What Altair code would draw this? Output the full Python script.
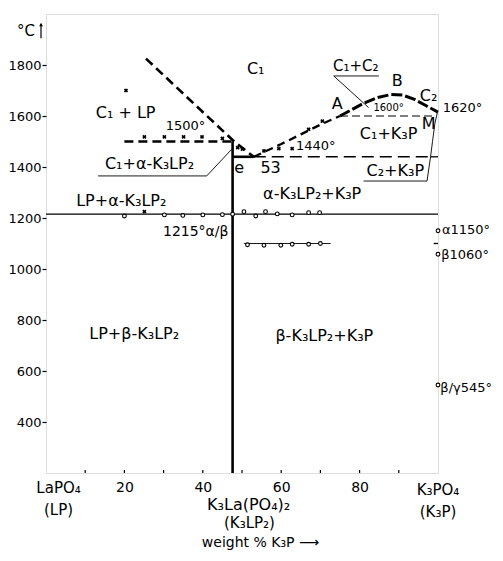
import altair as alt
import pandas as pd

# ---------------- data ----------------
liq_left_x = [25.5, 48.0, 53.0]
liq_left_T = [1825, 1500, 1440]
peritectic_x = [20.0, 47.6]
peritectic_T = [1500, 1500]
liq_right_x = [53.0, 60.0, 65.0, 70.0, 75.0]
liq_right_T = [1440, 1490, 1528, 1566, 1600]
dome_x = [75.0, 78.0, 81.0, 84.5, 88.0, 91.0, 94.0, 97.0, 100.0]
dome_T = [1600, 1625, 1650, 1672, 1684, 1682, 1665, 1640, 1615]
line1600_x = [75.0, 99.5]
line1600_T = [1600, 1600]
line1440_x = [53.0, 98.1]
line1440_T = [1440, 1440]
stub1440_x = [98.1, 100.0]
stub1440_T = [1440, 1440]
eut_x = [47.6, 53.0]
eut_T = [1440, 1440]
compound_x = [47.6, 47.6]
compound_T = [200, 1500]
line1215_x = [0.0, 100.0]
line1215_T = [1215, 1215]
bound_M_x = [99.8, 99.2, 98.6, 98.1]
bound_M_T = [1612, 1570, 1500, 1440]
row1100_x = [50.5, 72.6]
row1100_T = [1100, 1100]
stub1100_x = [98.9, 100.0]
stub1100_T = [1100, 1100]
# leader lines of labels
lead_c2k3p_x = [98.1, 97.2, 81.0]
lead_c2k3p_T = [1440, 1345, 1345]
lead_c1c2_x = [84.9, 73.4, 82.3]
lead_c1c2_T = [1757, 1757, 1633]
lead_c1a_x = [13.3, 41.0, 47.4]
lead_c1a_T = [1365, 1365, 1470]

# experimental points
cross_x = [20.4, 25.1, 30.2, 35.1, 39.8, 45.0, 48.9, 50.1, 55.6, 59.4, 62.8, 67.0, 70.5, 25.1]
cross_T = [1700, 1518, 1518, 1518, 1518, 1512, 1476, 1470, 1463, 1472, 1472, 1548, 1580, 1225]
circle_x = [20.0, 30.2, 34.9, 40.0, 45.0, 47.6, 50.5, 53.5, 56.0, 59.0, 62.8, 67.0, 69.8,
            51.4, 55.6, 59.9, 62.8, 67.0, 70.0, 100.0, 100.0, 100.0]
circle_T = [1208, 1212, 1210, 1212, 1213, 1215, 1225, 1208, 1225, 1216, 1212, 1221, 1221,
            1095, 1093, 1093, 1097, 1097, 1100, 1150, 1058, 545]

# region / point labels
lab_text = ["C₁", "C₁ + LP", "1500°", "C₁+α-K₃LP₂", "LP+α-K₃LP₂", "1215°α/β", "e", "53",
            "1440°", "C₁+C₂", "A", "B", "C₂", "1600°", "M", "C₁+K₃P", "C₂+K₃P",
            "α-K₃LP₂+K₃P", "LP+β-K₃LP₂", "β-K₃LP₂+K₃P"]
lab_x = [53.5, 20.3, 35.6, 26.4, 19.2, 38.2, 49.3, 57.3, 68.8, 79.0, 74.3, 89.6, 97.6,
         87.4, 97.6, 87.4, 89.1, 67.9, 22.5, 71.0]
lab_T = [1784, 1613, 1561, 1412, 1267, 1146, 1397, 1397, 1482, 1796, 1646, 1737, 1678,
         1630, 1567, 1528, 1384, 1293, 744, 737]
lab_size = [16, 16, 13, 16, 16, 14, 16, 16, 13, 15, 16, 16, 16, 10, 16, 16, 16, 16, 16, 16]

right_text = ["1620°", "α1150°", "β1060°", "β/γ545°"]
right_x = [101.2, 101.0, 100.8, 100.6]
right_T = [1630, 1152, 1055, 535]

xtick_major = [20, 40, 60, 80]
xtick_all = [10, 20, 30, 40, 50, 60, 70, 80, 90]
ytick_values = [400, 600, 800, 1000, 1200, 1400, 1600, 1800]

# bottom compound labels: text, x, pixel offset below plot, size
bot_text = ["LaPO₄", "(LP)", "K₃La(PO₄)₂", "(K₃LP₂)", "K₃PO₄", "(K₃P)", "weight % K₃P ⟶"]
bot_x = [3.2, 3.2, 51.7, 51.9, 100.0, 100.0, 54.7]
bot_off = [15, 37, 32, 50, 17, 39, 70]
bot_size = [15, 15, 16, 15, 15, 15, 14]

W, H = 392, 459
FONT = "DejaVu Sans"

# ---------------- build tables ----------------
line_specs = [
    ("liq_left", liq_left_x, liq_left_T, "thickdash"),
    ("peritectic", peritectic_x, peritectic_T, "thickdash"),
    ("liq_right", liq_right_x, liq_right_T, "meddash"),
    ("dome", dome_x, dome_T, "domedash"),
    ("l1600", line1600_x, line1600_T, "thindash"),
    ("l1440", line1440_x, line1440_T, "longdash"),
    ("s1440", stub1440_x, stub1440_T, "solid"),
    ("eut", eut_x, eut_T, "thicksolid"),
    ("compound", compound_x, compound_T, "thicksolid"),
    ("l1215", line1215_x, line1215_T, "solid"),
    ("boundM", bound_M_x, bound_M_T, "thin"),
    ("r1100", row1100_x, row1100_T, "thin"),
    ("s1100", stub1100_x, stub1100_T, "solid"),
    ("lead1", lead_c2k3p_x, lead_c2k3p_T, "thin"),
    ("lead2", lead_c1c2_x, lead_c1c2_T, "thin"),
    ("lead3", lead_c1a_x, lead_c1a_T, "thin"),
]
rows = []
for name, xs_, ts_, style in line_specs:
    for i, (xv, tv) in enumerate(zip(xs_, ts_)):
        rows.append({"seg": name, "x": xv, "T": tv, "o": i, "style": style})
lines_df = pd.DataFrame(rows)

styles = {
    "thickdash": dict(strokeWidth=2.6, strokeDash=[9, 5]),
    "meddash": dict(strokeWidth=2.3, strokeDash=[8, 5]),
    "domedash": dict(strokeWidth=3.0, strokeDash=[11, 3]),
    "thindash": dict(strokeWidth=1.2, strokeDash=[8, 4]),
    "longdash": dict(strokeWidth=1.6, strokeDash=[12, 6]),
    "solid": dict(strokeWidth=1.3),
    "thicksolid": dict(strokeWidth=2.6),
    "thin": dict(strokeWidth=0.9),
}

xs = alt.Scale(domain=[0, 100], nice=False, zero=False)
ys = alt.Scale(domain=[200, 2000], nice=False, zero=False)

base = alt.Chart(lines_df)
layers = []
for st, kw in styles.items():
    layers.append(
        base.transform_filter(alt.datum.style == st)
        .mark_line(color="black", strokeCap="butt", **kw)
        .encode(
            x=alt.X("x:Q", scale=xs,
                    axis=alt.Axis(values=xtick_major, title=None, domain=False, tickSize=0,
                                  labelPadding=7, labelFontSize=14, labelFont=FONT,
                                  labelColor="black", grid=False, format="d")),
            y=alt.Y("T:Q", scale=ys,
                    axis=alt.Axis(values=ytick_values, title=None, domain=False, tickSize=4,
                                  tickColor="black", tickWidth=1.2, labelPadding=1,
                                  labelFontSize=13, labelFont=FONT, labelColor="black",
                                  grid=False, format="d")),
            detail="seg:N",
            order="o:Q",
        )
    )

# inward ticks on the x axis
tick_df = pd.DataFrame({"x": xtick_all, "T0": [200] * len(xtick_all), "T1": [212] * len(xtick_all)})
ticks = alt.Chart(tick_df).mark_rule(color="black", strokeWidth=1.2).encode(
    x=alt.X("x:Q", scale=xs), y=alt.Y("T0:Q", scale=ys), y2="T1:Q")

cross_df = pd.DataFrame({"x": cross_x, "T": cross_T})
crosses = alt.Chart(cross_df).mark_point(shape="cross", angle=45, size=18, filled=True,
                                         color="black", opacity=1).encode(
    x=alt.X("x:Q", scale=xs), y=alt.Y("T:Q", scale=ys))

circ_df = pd.DataFrame({"x": circle_x, "T": circle_T})
circles = alt.Chart(circ_df).mark_point(shape="circle", size=14, filled=False,
                                        color="black", strokeWidth=1.1, fill="white",
                                        opacity=1).encode(
    x=alt.X("x:Q", scale=xs), y=alt.Y("T:Q", scale=ys))

lab_df = pd.DataFrame({"t": lab_text, "x": lab_x, "T": lab_T, "s": lab_size})
labels = alt.Chart(lab_df).mark_text(font=FONT, color="black", align="center",
                                     baseline="middle").encode(
    x=alt.X("x:Q", scale=xs), y=alt.Y("T:Q", scale=ys), text="t:N",
    size=alt.Size("s:Q", scale=None, legend=None))

r_df = pd.DataFrame({"t": right_text, "x": right_x, "T": right_T})
rlabels = alt.Chart(r_df).mark_text(font=FONT, color="black", align="left",
                                    baseline="middle", fontSize=13).encode(
    x=alt.X("x:Q", scale=xs), y=alt.Y("T:Q", scale=ys), text="t:N")

blayers = []
for t, xv, off, sz in zip(bot_text, bot_x, bot_off, bot_size):
    blayers.append(
        alt.Chart(pd.DataFrame({"t": [t], "x": [xv]})).mark_text(
            font=FONT, color="black", align="center", baseline="middle",
            fontSize=sz, dy=off)
        .encode(x=alt.X("x:Q", scale=xs), y=alt.value(H), text="t:N")
    )

# degree-Celsius unit label with arrow
unit = alt.Chart(pd.DataFrame({"t": ["°C"], "T": [1935]})).mark_text(
    font=FONT, fontSize=15, color="black", align="center", baseline="middle").encode(
    x=alt.value(-20), y=alt.Y("T:Q", scale=ys), text="t:N")
arrow = alt.Chart(pd.DataFrame({"T0": [1905], "T1": [1962]})).mark_rule(
    color="black", strokeWidth=1.2).encode(
    x=alt.value(-5), y=alt.Y("T0:Q", scale=ys), y2="T1:Q")
arrow_head = alt.Chart(pd.DataFrame({"T": [1958]})).mark_point(
    shape="triangle-up", size=14, filled=True, color="black", opacity=1).encode(
    x=alt.value(-5), y=alt.Y("T:Q", scale=ys))

chart = alt.layer(*layers, ticks, crosses, circles, labels, rlabels, *blayers,
                  unit, arrow, arrow_head).properties(
    width=W, height=H,
    autosize=alt.AutoSizeParams(type="none"),
    padding={"left": 38, "top": 6, "right": 57, "bottom": 80},
).configure_view(stroke="black", strokeWidth=1.4).configure(background="white")

chart.save("out.html", embed_options={"renderer": "svg", "actions": False})
